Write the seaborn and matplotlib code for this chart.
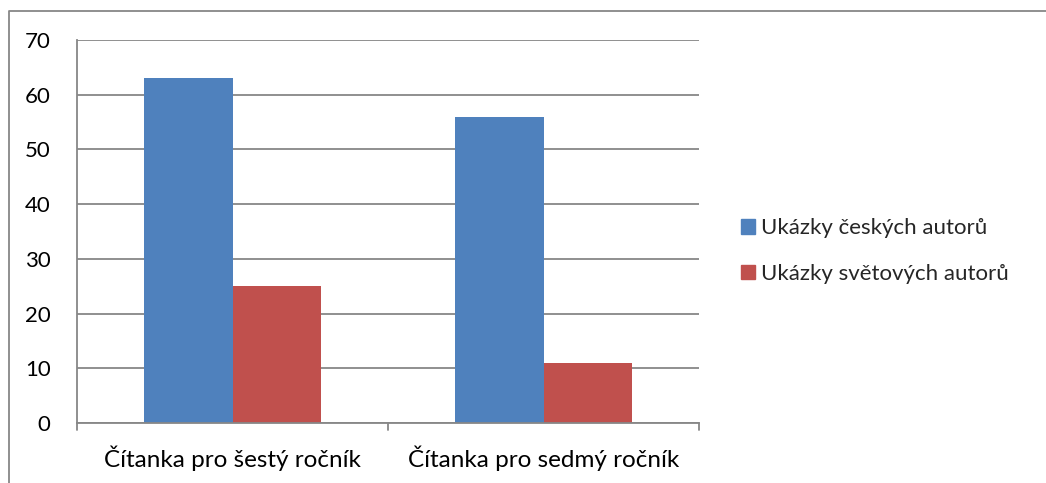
import matplotlib.pyplot as plt
import pandas as pd
import seaborn as sns
from matplotlib.patches import Rectangle

# Data
categories = ['Čítanka pro šestý ročník', 'Čítanka pro sedmý ročník']
series = ['Ukázky českých autorů', 'Ukázky světových autorů']
czech_values = [63, 56]
world_values = [25, 11]
colors = ['#4F81BD', '#C0504D']

df = pd.DataFrame({
    'kategorie': categories * 2,
    'serie': [series[0]] * 2 + [series[1]] * 2,
    'hodnota': czech_values + world_values,
})

sns.set_style('white')
plt.rcParams['font.family'] = ['Lato', 'DejaVu Sans']

fig = plt.figure(figsize=(10.46, 4.83), dpi=100)
W, H = 1046, 483
ax = fig.add_axes([77 / W, 1 - 423 / H, (699 - 77) / W, (423 - 40) / H])

sns.barplot(data=df, x='kategorie', y='hodnota', hue='serie',
            palette=colors, width=0.566, gap=0, ax=ax,
            edgecolor='none', linewidth=0, saturation=1, legend=False)

grid_c = '#878787'
ax.set_ylim(0, 70)
ax.set_xlim(-0.5, 1.5)
ax.set_yticks(range(0, 71, 10))
ax.yaxis.grid(True, color=grid_c, linewidth=1.3)
ax.set_axisbelow(True)
ax.set_xlabel('')
ax.set_ylabel('')

for s in ['top', 'right']:
    ax.spines[s].set_visible(False)
for s in ['left', 'bottom']:
    ax.spines[s].set_color(grid_c)
    ax.spines[s].set_linewidth(1.3)

ax.tick_params(axis='y', length=7, width=1.3, color=grid_c, labelsize=16, pad=12,
               labelcolor='black')
ax.tick_params(axis='x', length=0, labelsize=17.5, pad=16, labelcolor='black')

# category separators on the x axis
for xb in [-0.5, 0.5, 1.5]:
    ax.plot([xb, xb], [0, -0.018], transform=ax.get_xaxis_transform(),
            color=grid_c, lw=1.3, clip_on=False)

# legend
handles = [Rectangle((0, 0), 1, 1, color=c) for c in colors]
fig.legend(handles, series, loc='center left', bbox_to_anchor=(721 / W, 1 - 251 / H),
           frameon=False, fontsize=16, handlelength=0.65, handleheight=0.65,
           handletextpad=0.25, labelspacing=1.15)

# outer chart border (only top and left edges are visible)
fig.add_artist(plt.Line2D([9 / W, 9 / W, 1], [0, 1 - 11 / H, 1 - 11 / H],
                          transform=fig.transFigure, color=grid_c, lw=1.3))

fig.savefig('out.png', dpi=100)
